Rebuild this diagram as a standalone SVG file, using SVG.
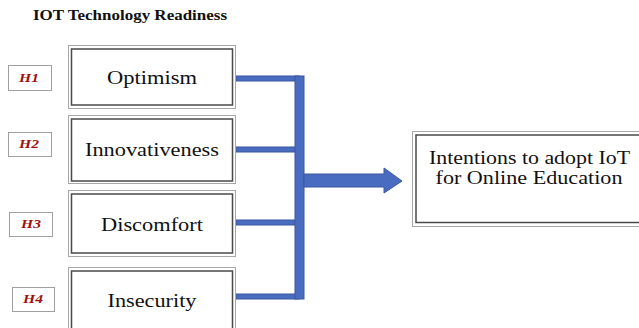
<svg xmlns="http://www.w3.org/2000/svg" width="639" height="328" viewBox="0 0 639 328">
<style>
.outer{fill:#fff;stroke:#a8a8a8;stroke-width:1}
.inner{fill:#fff;stroke:#4a4a4a;stroke-width:1.5}
.hbox{fill:#fff;stroke:#a0a0a0;stroke-width:1}
.lbl{font-family:"Liberation Serif","Times New Roman",serif;font-size:18px;fill:#111;text-anchor:middle}
.h{font-family:"Liberation Serif","Times New Roman",serif;font-size:12.5px;font-weight:bold;font-style:italic;fill:#a01010;text-anchor:middle}
.bar{fill:#4a6cc0;stroke:#3a57a0;stroke-width:1}
</style>
<rect width="639" height="328" fill="#fff"/>
<text x="33" y="20" font-family="'Liberation Serif', 'Times New Roman', serif" font-size="14" font-weight="bold" fill="#111" textLength="194" lengthAdjust="spacingAndGlyphs">IOT Technology Readiness</text>

<g id="connectors">
<rect class="bar" x="236" y="76" width="63" height="5"/>
<rect class="bar" x="236" y="147" width="63" height="5"/>
<rect class="bar" x="236" y="220" width="63" height="5"/>
<rect class="bar" x="236" y="294" width="63" height="5"/>
<rect class="bar" x="295" y="76" width="9" height="223"/>
<path class="bar" d="M304,174 H384 V168 L402,181 L384,193 V187 H304 Z"/>
</g>

<g id="h1"><rect class="hbox" x="8.5" y="65.5" width="43" height="25"/><text class="h" x="29" y="82" textLength="20" lengthAdjust="spacingAndGlyphs">H1</text></g>
<g id="h2"><rect class="hbox" x="8.5" y="132.5" width="43" height="24"/><text class="h" x="29" y="148" textLength="20" lengthAdjust="spacingAndGlyphs">H2</text></g>
<g id="h3"><rect class="hbox" x="9.5" y="212.5" width="43" height="24"/><text class="h" x="31" y="228" textLength="20" lengthAdjust="spacingAndGlyphs">H3</text></g>
<g id="h4"><rect class="hbox" x="12.5" y="287.5" width="42" height="24"/><text class="h" x="33" y="303" textLength="20" lengthAdjust="spacingAndGlyphs">H4</text></g>

<g id="optimism"><rect class="outer" x="68.5" y="45.5" width="167" height="63"/><rect class="inner" x="71.5" y="49" width="161" height="56"/><text class="lbl" x="152" y="84" textLength="90" lengthAdjust="spacingAndGlyphs">Optimism</text></g>
<g id="innovativeness"><rect class="outer" x="68.5" y="115.5" width="167" height="68"/><rect class="inner" x="71.5" y="119" width="161" height="62"/><text class="lbl" x="152" y="156" textLength="134" lengthAdjust="spacingAndGlyphs">Innovativeness</text></g>
<g id="discomfort"><rect class="outer" x="68.5" y="190.5" width="167" height="66"/><rect class="inner" x="71.5" y="194" width="161" height="59"/><text class="lbl" x="152" y="231" textLength="102" lengthAdjust="spacingAndGlyphs">Discomfort</text></g>
<g id="insecurity"><rect class="outer" x="68.5" y="267.5" width="167" height="70"/><rect class="inner" x="71.5" y="271" width="161" height="66"/><text class="lbl" x="152" y="307" textLength="89" lengthAdjust="spacingAndGlyphs">Insecurity</text></g>

<g id="intentions"><rect class="outer" x="412.5" y="131.5" width="240" height="95"/><rect class="inner" x="416" y="135" width="236" height="87.5"/>
<text class="lbl" x="529.5" y="164" textLength="201" lengthAdjust="spacingAndGlyphs">Intentions to adopt IoT</text>
<text class="lbl" x="529" y="184" textLength="187" lengthAdjust="spacingAndGlyphs">for Online Education</text></g>
</svg>
